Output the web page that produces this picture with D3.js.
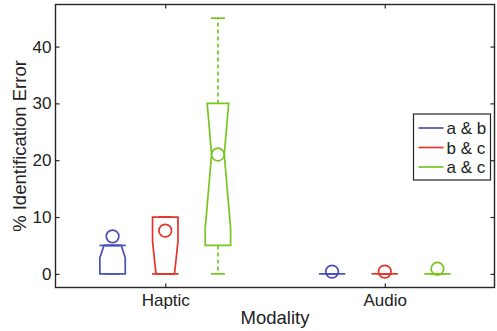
<!DOCTYPE html>
<html>
<head>
<meta charset="utf-8">
<script src="https://cdn.jsdelivr.net/npm/d3@7"></script>
<style>
  html, body { margin: 0; padding: 0; background: #fff; }
  svg { display: block; font-family: "Liberation Sans", Arial, Helvetica, sans-serif; }
</style>
</head>
<body>
<svg id="chart" width="497" height="331"></svg>
<script>
// Groups on the x axis and the three pairings in each group
const groups = ["Haptic", "Audio"];
const seriesNames = ["a & b", "b & c", "a & c"];

// Box statistics, indexed [group][series]
const lowerWhisker = [[0, 0, 0], [0, 0, 0]];
const q1Values     = [[0, 0, 5], [0, 0, 0]];
const medianValues = [[5, 0, 21], [0, 0, 0]];
const q3Values     = [[5, 10, 30], [0, 0, 0]];
const upperWhisker = [[5, 10, 45], [0, 0, 0]];
const notchLow     = [[2.8, -5.7, 8], [0, 0, 0]];
const notchHigh    = [[7.2, 5.7, 34], [0, 0, 0]];
const markerValues = [[6.6, 7.6, 21], [0.4, 0.4, 0.9]];

// Axis ticks
const yTicks = [0, 10, 20, 30, 40];

// Styling
const colors = ["#4a50b6", "#e2352b", "#78c520"];
const waistInset = [0.32, 0.27, 0.5]; // notch depth as a fraction of half box width
const frameColor = "#262626";
const textColor = "#222";

const svg = d3.select("#chart");
const m = { left: 55.5, top: 4.5, right: 494.5, bottom: 287.5 };

const x = d3.scaleLinear().domain([0.5, 2.5]).range([m.left, m.right]);
const y = d3.scaleLinear().domain([-2.4, 47.4]).range([m.bottom, m.top]);

const offset = 0.24;      // series offset in group units
const halfW = 12.7;       // box half width in px
const capHalf = 7;        // whisker cap half width in px

const boxes = [];
groups.forEach((g, gi) => {
  seriesNames.forEach((s, si) => {
    boxes.push({
      gi, si,
      cx: x(gi + 1 + (si - 1) * offset),
      lw: lowerWhisker[gi][si], q1: q1Values[gi][si], med: medianValues[gi][si],
      q3: q3Values[gi][si], uw: upperWhisker[gi][si],
      nLo: notchLow[gi][si], nHi: notchHigh[gi][si], mk: markerValues[gi][si]
    });
  });
});

// half width of a notched box at value v
function widthAt(b, v) {
  const d = halfW * waistInset[b.si];
  if (v >= b.nLo && v <= b.med && b.med > b.nLo) return halfW - d * (v - b.nLo) / (b.med - b.nLo);
  if (v <= b.nHi && v >= b.med && b.nHi > b.med) return halfW - d * (b.nHi - v) / (b.nHi - b.med);
  if (v === b.med) return halfW - d;
  return halfW;
}

const plot = svg.append("g");

boxes.forEach(b => {
  const c = colors[b.si];
  const g = plot.append("g");
  const sw = 1.7;

  // whiskers (dashed) and caps
  if (b.uw > b.q3) {
    g.append("line").attr("x1", b.cx).attr("x2", b.cx).attr("y1", y(b.q3)).attr("y2", y(b.uw))
      .attr("stroke", c).attr("stroke-width", sw).attr("stroke-dasharray", "4,3");
  }
  if (b.lw < b.q1) {
    g.append("line").attr("x1", b.cx).attr("x2", b.cx).attr("y1", y(b.q1)).attr("y2", y(b.lw))
      .attr("stroke", c).attr("stroke-width", sw).attr("stroke-dasharray", "4,3");
  }
  [b.lw, b.uw].forEach(v => {
    g.append("line").attr("x1", b.cx - capHalf).attr("x2", b.cx + capHalf)
      .attr("y1", y(v)).attr("y2", y(v)).attr("stroke", c).attr("stroke-width", sw);
  });

  // notched box outline
  if (b.q3 > b.q1) {
    const vals = [b.q1];
    [b.nLo, b.med, b.nHi].forEach(v => { if (v > b.q1 && v < b.q3) vals.push(v); });
    vals.push(b.q3);
    const left = vals.map(v => [b.cx - widthAt(b, v), y(v)]);
    const right = vals.slice().reverse().map(v => [b.cx + widthAt(b, v), y(v)]);
    g.append("path")
      .attr("d", d3.line()(left.concat(right)) + "Z")
      .attr("fill", "none").attr("stroke", c).attr("stroke-width", sw)
      .attr("stroke-linejoin", "miter");
  }

  // median line: full width at a box edge, otherwise across the notch waist
  const atEdge = b.med === b.q1 || b.med === b.q3;
  const mw = atEdge ? halfW + 0.5 : widthAt(b, b.med);
  g.append("line").attr("x1", b.cx - mw).attr("x2", b.cx + mw)
    .attr("y1", y(b.med)).attr("y2", y(b.med)).attr("stroke", c).attr("stroke-width", sw);

  // circle marker
  g.append("circle").attr("cx", b.cx).attr("cy", y(b.mk)).attr("r", 6.3)
    .attr("fill", atEdge ? "none" : "#fff").attr("stroke", c).attr("stroke-width", sw);
});

// frame and axes
const axisG = svg.append("g");
axisG.append("rect").attr("x", m.left).attr("y", m.top)
  .attr("width", m.right - m.left).attr("height", m.bottom - m.top)
  .attr("fill", "none").attr("stroke", frameColor).attr("stroke-width", 1.4);

const yAxisL = d3.axisLeft(y).tickValues(yTicks).tickSizeInner(-4).tickSizeOuter(0).tickPadding(4);
const yAxisR = d3.axisRight(y).tickValues(yTicks).tickSizeInner(-4).tickSizeOuter(0).tickFormat("");
const xAxisB = d3.axisBottom(x).tickValues([1, 2]).tickFormat((d) => groups[d - 1])
  .tickSizeInner(-4).tickSizeOuter(0).tickPadding(6);
const xAxisT = d3.axisTop(x).tickValues([1, 2]).tickSizeInner(-4).tickSizeOuter(0).tickFormat("");

function styleAxis(sel) {
  sel.select(".domain").remove();
  sel.selectAll(".tick line").attr("stroke", frameColor).attr("stroke-width", 1.2);
  sel.selectAll(".tick text").attr("fill", textColor).attr("font-size", 17)
    .attr("font-family", "Liberation Sans, Arial, sans-serif");
}
axisG.append("g").attr("transform", `translate(${m.left},0)`).call(yAxisL).call(styleAxis);
axisG.append("g").attr("transform", `translate(${m.right},0)`).call(yAxisR).call(styleAxis);
axisG.append("g").attr("transform", `translate(0,${m.bottom})`).call(xAxisB).call(styleAxis);
axisG.append("g").attr("transform", `translate(0,${m.top})`).call(xAxisT).call(styleAxis);

// axis titles
svg.append("text").attr("x", (m.left + m.right) / 2).attr("y", 324)
  .attr("text-anchor", "middle").attr("font-size", 18.5).attr("fill", textColor).text("Modality");
svg.append("text").attr("transform", "translate(26,146) rotate(-90)")
  .attr("text-anchor", "middle").attr("font-size", 18.5).attr("fill", textColor).text("% Identification Error");

// legend
const leg = svg.append("g").attr("transform", "translate(413.5,114)");
leg.append("rect").attr("width", 77).attr("height", 66)
  .attr("fill", "#fff").attr("stroke", frameColor).attr("stroke-width", 1.2);
seriesNames.forEach((s, i) => {
  const ly = 14 + i * 19.5;
  leg.append("line").attr("x1", 5).attr("x2", 30).attr("y1", ly).attr("y2", ly)
    .attr("stroke", colors[i]).attr("stroke-width", 1.7);
  leg.append("text").attr("x", 33).attr("y", ly + 6).attr("font-size", 17)
    .attr("fill", textColor).text(s);
});
</script>
</body>
</html>
